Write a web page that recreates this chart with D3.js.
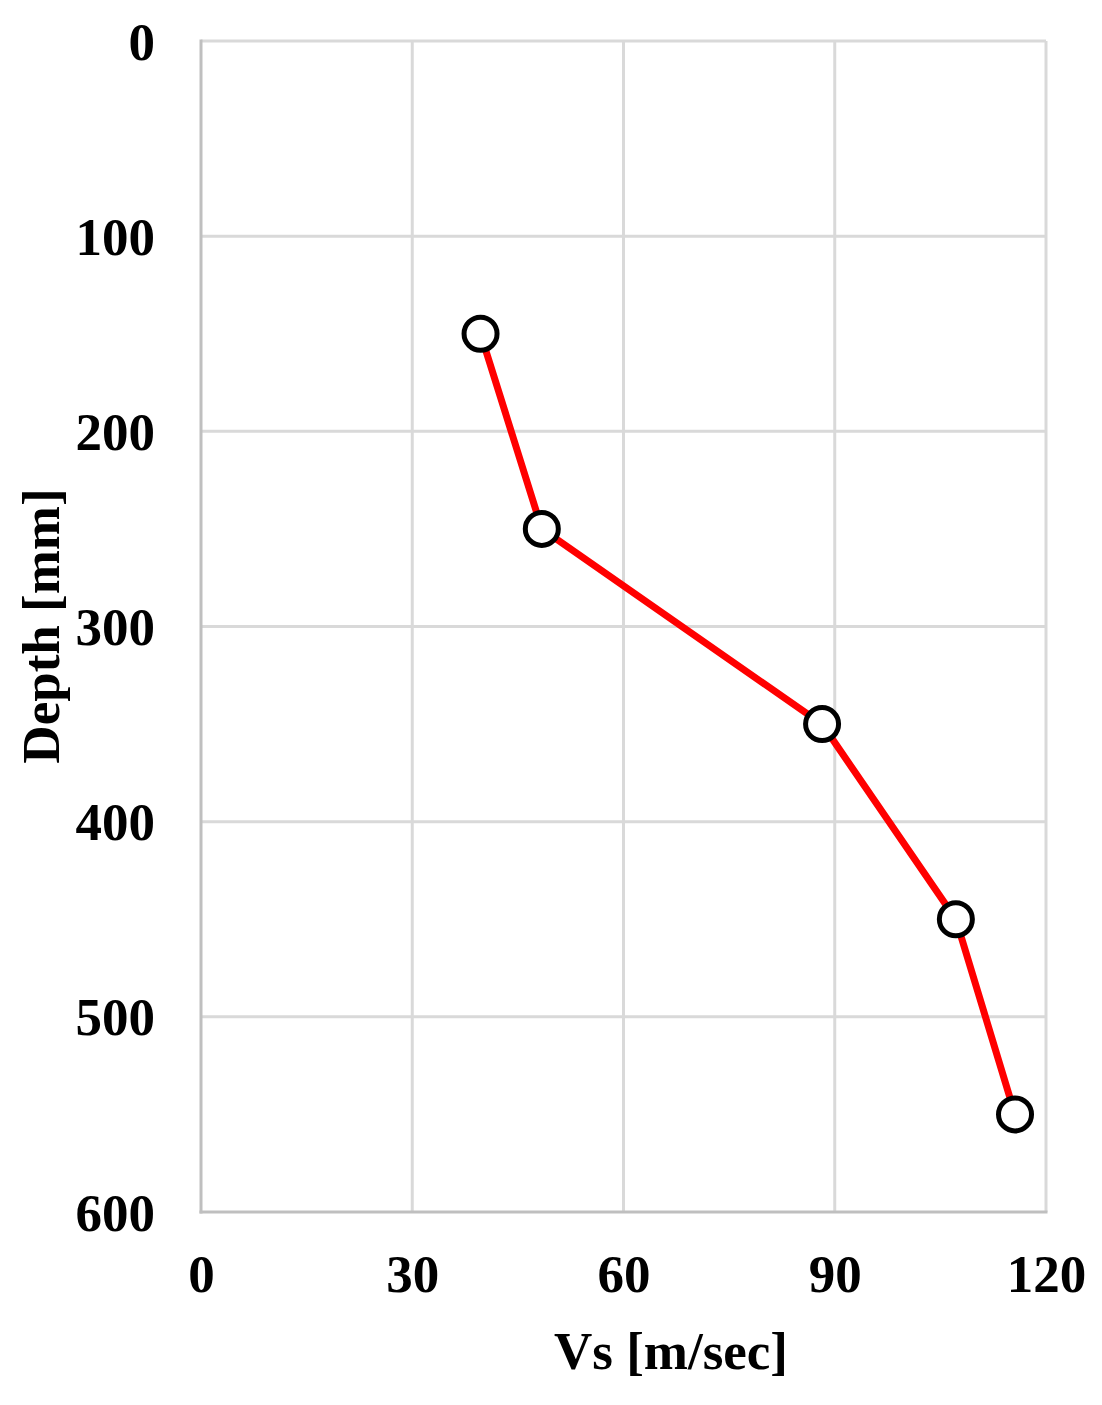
<!DOCTYPE html>
<html>
<head>
<meta charset="utf-8">
<script src="https://cdn.jsdelivr.net/npm/d3@7"></script>
<style>
  html, body { margin: 0; padding: 0; background: #fff; }
  svg { display: block; }
  text { font-family: "Liberation Serif", "Times New Roman", serif; font-weight: bold; fill: #000; }
</style>
</head>
<body>
<svg id="chart" width="1102" height="1405"></svg>
<script>
// Data
const depths = [150, 250, 350, 450, 550];          // mm
const vsValues = [39.7, 48.4, 88.2, 107.2, 115.6]; // m/sec
const xTicks = [0, 30, 60, 90, 120];
const yTicks = [0, 100, 200, 300, 400, 500, 600];
const xTitle = "Vs [m/sec]";
const yTitle = "Depth [mm]";

(function () {
const svg = d3.select("#chart");
const pL = 201, pR = 1046, pT = 41, pB = 1212;

const x = d3.scaleLinear().domain([0, 120]).range([pL, pR]);
const y = d3.scaleLinear().domain([0, 600]).range([pT, pB]);

// gridlines
const grid = svg.append("g");
grid.selectAll("line.v").data(xTicks.filter(d => d !== 0)).enter().append("line")
  .attr("x1", d => x(d)).attr("x2", d => x(d))
  .attr("y1", pT).attr("y2", pB)
  .attr("stroke", "#d9d9d9").attr("stroke-width", 3);
grid.selectAll("line.h").data(yTicks.filter(d => d !== 600)).enter().append("line")
  .attr("x1", pL).attr("x2", pR)
  .attr("y1", d => y(d)).attr("y2", d => y(d))
  .attr("stroke", "#d9d9d9").attr("stroke-width", 3);

// axis lines
svg.append("line").attr("x1", pL).attr("x2", pL).attr("y1", pT - 1.5).attr("y2", pB + 1.5)
  .attr("stroke", "#bfbfbf").attr("stroke-width", 3);
svg.append("line").attr("x1", pL - 1.5).attr("x2", pR + 1.5).attr("y1", pB).attr("y2", pB)
  .attr("stroke", "#bfbfbf").attr("stroke-width", 3);

// Axes labels via d3 axes
const xAxis = d3.axisBottom(x).tickValues(xTicks).tickSize(0).tickPadding(0).tickFormat(d3.format("d"));
const gx = svg.append("g").attr("transform", `translate(0,${pB})`).call(xAxis);
gx.select(".domain").remove();
gx.selectAll("text").attr("font-size", 53).attr("dy", null).attr("y", 80)
  .style("font-family", '"Liberation Serif", "Times New Roman", serif').style("font-weight", "bold").attr("fill", "#000");

const yAxis = d3.axisLeft(y).tickValues(yTicks).tickSize(0).tickPadding(0).tickFormat(d3.format("d"));
const gy = svg.append("g").attr("transform", `translate(${pL},0)`).call(yAxis);
gy.select(".domain").remove();
gy.selectAll("text").attr("font-size", 53).attr("x", -46).attr("dy", "0.34em")
  .style("font-family", '"Liberation Serif", "Times New Roman", serif').style("font-weight", "bold").attr("fill", "#000");

// Line
const pts = depths.map((d, i) => ({ depth: d, vs: vsValues[i] }));
svg.append("path").datum(pts)
  .attr("d", d3.line().x(d => x(d.vs)).y(d => y(d.depth)))
  .attr("fill", "none").attr("stroke", "#ff0000").attr("stroke-width", 7).attr("stroke-linejoin", "round");

svg.selectAll("circle.m").data(pts).enter().append("circle")
  .attr("cx", d => x(d.vs)).attr("cy", d => y(d.depth)).attr("r", 16.5)
  .attr("fill", "#fff").attr("stroke", "#000").attr("stroke-width", 5);

// Titles
svg.append("text").attr("x", 671).attr("y", 1369).attr("text-anchor", "middle")
  .attr("font-size", 53).text(xTitle);
svg.append("text").attr("transform", "translate(59,626) rotate(-90)").attr("text-anchor", "middle")
  .attr("font-size", 53).text(yTitle);
})();
</script>
</body>
</html>
